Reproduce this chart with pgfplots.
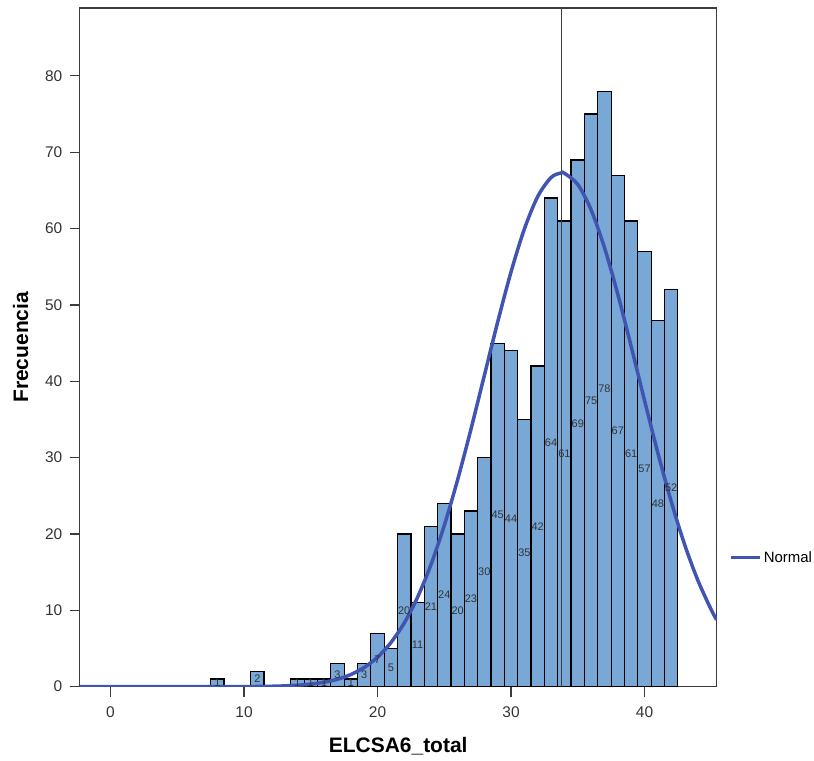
\documentclass[border=0pt]{standalone}
\usepackage{fontspec}
\setmainfont{Liberation Sans}
\usepackage{pgfplots}
\pgfplotsset{compat=1.18}

\definecolor{barblue}{RGB}{121,168,214}
\definecolor{normblue}{RGB}{64,84,178}
\definecolor{framegray}{RGB}{60,60,60}

\begin{document}
\begin{tikzpicture}
\begin{axis}[
  name=ax,
  scale only axis,
  width=638pt, height=680pt,
  xmin=-2.3, xmax=45.4,
  ymin=0, ymax=88.9,
  xtick={0,10,20,30,40},
  ytick={0,10,20,30,40,50,60,70,80},
  xtick pos=bottom, ytick pos=left,
  tick align=outside,
  major tick length=10pt,
  axis line style={framegray, line width=1.1pt},
  every tick/.style={draw=framegray, line width=1.1pt},
  ticklabel style={font=\fontsize{15.5}{17}\selectfont, text=black!80},
  xticklabel style={yshift=-7pt},
  yticklabel style={xshift=-4pt},
  /pgf/number format/assume math mode=true,
  xlabel={\bfseries ELCSA6\_total},
  ylabel={\bfseries Frecuencia},
  xlabel style={font=\fontsize{21}{24}\selectfont, yshift=-12pt},
  ylabel style={font=\fontsize{21}{24}\selectfont, yshift=10pt},
  legend style={at={(1.02,0.19)}, anchor=west, draw=none, fill=none,
    inner sep=0pt, outer sep=0pt,
    font=\fontsize{15}{17}\selectfont},
  legend image code/.code={\draw[#1, line width=3.5pt] (0pt,0pt) -- (29pt,0pt);},
  clip=true,
]

% histogram counts
\addplot[ybar, bar width=1, bar shift=0pt, fill=barblue, draw=black, line width=1.2pt, forget plot]
coordinates {
  (8,1) (11,2) (14,1) (15,1) (16,1) (17,3) (18,1) (19,3)
  (20,7) (21,5) (22,20) (23,11) (24,21) (25,24) (26,20) (27,23)
  (28,30) (29,45) (30,44) (31,35) (32,42) (33,64) (34,61) (35,69)
  (36,75) (37,78) (38,67) (39,61) (40,57) (41,48) (42,52)
};

% count labels at half height
\addplot[draw=none, mark=none, forget plot, nodes near coords,
  point meta=explicit symbolic,
  every node near coord/.append style={anchor=center, inner sep=0pt,
    font=\fontsize{11}{12}\selectfont, text=black!80}]
coordinates {
  (8,0.5)[1] (11,1)[2] (14,0.5)[1] (15,0.5)[1] (16,0.5)[1] (17,1.5)[3] (18,0.5)[1] (19,1.5)[3]
  (20,3.5)[7] (21,2.5)[5] (22,10)[20] (23,5.5)[11] (24,10.5)[21] (25,12)[24] (26,10)[20] (27,11.5)[23]
  (28,15)[30] (29,22.5)[45] (30,22)[44] (31,17.5)[35] (32,21)[42] (33,32)[64] (34,30.5)[61] (35,34.5)[69]
  (36,37.5)[75] (37,39)[78] (38,33.5)[67] (39,30.5)[61] (40,28.5)[57] (41,24)[48] (42,26)[52]
};

% mean line
\addplot[framegray, line width=1.6pt, forget plot] coordinates {(33.77,0) (33.77,88.9)};

% normal curve
\addplot[normblue, line width=3.5pt, smooth] coordinates {
  (-2.3,0) (5,0) (10,0.01) (12,0.05) (13,0.10) (14,0.19) (15,0.33)
  (16,0.58) (17,0.97) (18,1.59) (19,2.51) (20,3.86) (21,5.77) (22,8.34)
  (23,11.72) (24,15.97) (25,21.12) (26,27.10) (27,33.73) (28,40.75)
  (29,47.76) (30,54.32) (31,59.95) (32,64.20) (33,66.70) (33.77,67.30)
  (34,67.25) (35,65.79) (36,62.44) (37,57.51) (38,51.40) (39,44.57)
  (40,37.50) (41,30.62) (42,24.25) (43,18.64) (44,13.91) (45,10.07) (45.4,8.77)
};
\addlegendentry{Normal}

\end{axis}
\path ([xshift=-80pt,yshift=-74pt]ax.south west) rectangle ([xshift=96pt,yshift=8pt]ax.north east);
\end{tikzpicture}
\end{document}
